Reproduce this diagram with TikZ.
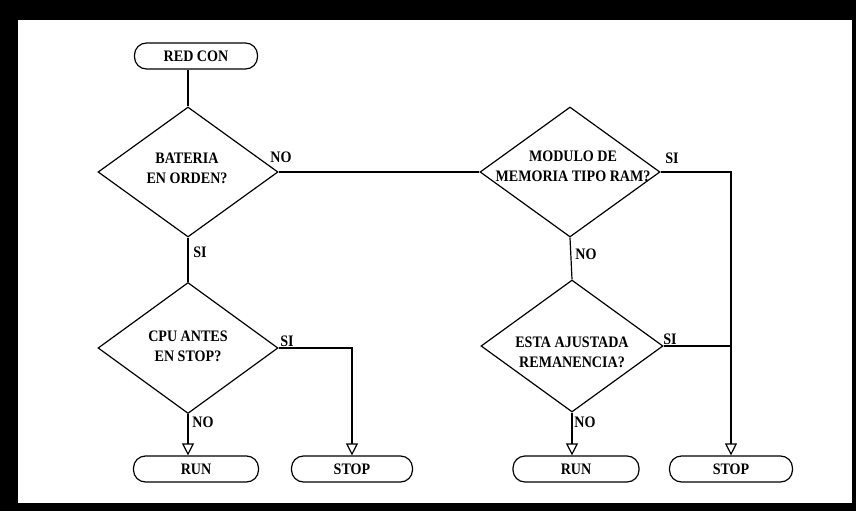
\documentclass[tikz,border=0pt]{standalone}
\usepackage{fontspec}
\setmainfont{Liberation Serif}[FakeStretch=0.88]
\usetikzlibrary{shapes.geometric,arrows.meta}
\tikzset{
  term/.style={draw, rounded corners=12pt, minimum height=26pt, inner sep=0pt,
    font=\fontsize{16}{20}\selectfont\bfseries},
  dec/.style={draw, diamond, inner sep=0pt, minimum width=180pt, minimum height=130pt},
  txt/.style={align=center, inner sep=0pt, font=\fontsize{16}{20}\selectfont\bfseries},
  lbl/.style={inner sep=0pt, font=\fontsize{16}{18}\selectfont\bfseries},
  flow/.style={-{Triangle[open,length=12pt,width=12pt]}}
}
\begin{document}
\begin{tikzpicture}[x=1pt,y=-1pt,line width=1.2pt]
%% frame
\useasboundingbox (0,0) rectangle (856,511);
\fill[black] (0,0) rectangle (856,511);
\fill[white] (18,20) rectangle (852,503);
%% start
\node[term, minimum width=123pt] (red) at (196,56) {RED CON};
%% left column
\node[dec] (bat) at (188,172) {};
\node[txt] (batt) at (187,168) {BATERIA\\EN ORDEN?};
\node[dec, minimum height=131pt] (cpu) at (188,348) {};
\node[txt] (cput) at (188,346) {CPU ANTES\\EN STOP?};
\node[term, minimum width=125pt] (run1) at (196,469) {RUN};
\node[term, minimum width=121pt] (stop1) at (352,469) {STOP};
%% right column
\node[dec] (ram) at (570,172) {};
\node[txt] (ramt) at (573,166) {MODULO DE\\MEMORIA TIPO RAM?};
\node[dec, minimum width=182pt, minimum height=132pt] (rem) at (572,346) {};
\node[txt] (remt) at (572,352) {ESTA AJUSTADA\\REMANENCIA?};
\node[term, minimum width=126pt] (run2) at (576,469) {RUN};
\node[term, minimum width=123pt] (stop2) at (731,469) {STOP};
%% connectors
\draw (bat.north) -- (bat.north |- red.south);
\draw (bat.east) -- (ram.west);
\draw (bat.south) -- (cpu.north);
\draw[flow] (cpu.south) -- (cpu.south |- run1.north);
\draw[flow] (cpu.east) -| (stop1.north);
\draw[flow] (ram.east) -| (stop2.north);
\draw (ram.south) -- (rem.north);
\draw (rem.east) -- (rem.east -| stop2.north);
\draw[flow] (rem.south) -- (rem.south |- run2.north);
%% branch labels
\node[lbl] (no1) at (281,157) {NO};
\node[lbl] (si1) at (200,252) {SI};
\node[lbl] (si2) at (287,341) {SI};
\node[lbl] (no2) at (203,422) {NO};
\node[lbl] (si3) at (672,158) {SI};
\node[lbl] (no3) at (586,254) {NO};
\node[lbl] (si4) at (670,339) {SI};
\node[lbl] (no4) at (585,422) {NO};
\end{tikzpicture}
\end{document}
